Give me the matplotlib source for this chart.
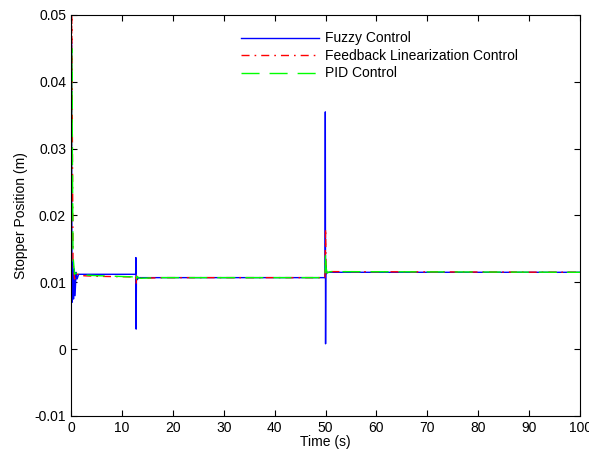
import matplotlib.pyplot as plt

plt.rcParams['font.family'] = ['Liberation Sans', 'DejaVu Sans']

# time (s) / stopper position (m)
fuzzy_t = [0, 0.1, 0.2, 0.35, 0.5, 0.65, 0.8, 1.0, 1.2, 1.5, 12.7, 12.75, 12.8,
           12.85, 12.9, 13.0, 13.3, 20, 49.9, 49.95, 50.0, 50.05, 50.1, 50.3, 100]
fuzzy_y = [0.0, 0.046, 0.007, 0.013, 0.0075, 0.012, 0.008, 0.0115, 0.0105, 0.0112,
           0.0112, 0.0137, 0.003, 0.0105, 0.0108, 0.0104, 0.0107, 0.0107, 0.0107,
           0.0355, 0.0008, 0.0125, 0.0113, 0.0115, 0.0115]

fbl_t = [0, 0.15, 0.4, 0.7, 1.0, 2, 5, 12.7, 12.8, 12.9, 13.5, 18, 49.9, 50.0,
         50.1, 50.3, 51, 100]
fbl_y = [0.0, 0.05, 0.013, 0.0105, 0.0113, 0.011, 0.0109, 0.0108, 0.0098, 0.011,
         0.0106, 0.0107, 0.0107, 0.018, 0.0125, 0.0113, 0.0116, 0.0115]

pid_t = [0, 0.15, 0.4, 0.7, 1.0, 2, 5, 12.7, 12.8, 12.9, 13.5, 18, 49.9, 50.0,
         50.1, 50.3, 51, 100]
pid_y = [0.001, 0.045, 0.014, 0.0112, 0.0114, 0.0111, 0.011, 0.0108, 0.0101,
         0.0109, 0.0106, 0.0107, 0.0107, 0.0144, 0.0122, 0.0114, 0.0116, 0.0115]

labels = ['Fuzzy Control', 'Feedback Linearization Control', 'PID Control']

fig = plt.figure(figsize=(5.89, 4.62), dpi=100)
ax = fig.add_axes([0.1205, 0.0996, 0.8645, 0.868])

ax.plot(fuzzy_t, fuzzy_y, color='#0000ff', lw=1.0, label=labels[0])
ax.plot(fbl_t, fbl_y, color='#ff0000', lw=1.0, dashes=(5.8, 3.6, 1.2, 3.6), label=labels[1])
ax.plot(pid_t, pid_y, color='#00ff00', lw=1.0, dashes=(13, 7.2), label=labels[2])

ax.set_xlim(0, 100)
ax.set_ylim(-0.01, 0.05)
ax.set_xticks(range(0, 101, 10))
ax.set_yticks([-0.01, 0, 0.01, 0.02, 0.03, 0.04, 0.05])
ax.set_yticklabels(['-0.01', '0', '0.01', '0.02', '0.03', '0.04', '0.05'])
ax.tick_params(direction='in', top=True, right=True, length=4, labelsize=10, width=0.8)
for s in ax.spines.values():
    s.set_linewidth(0.8)

ax.set_xlabel('Time (s)', fontsize=10, labelpad=0)
ax.set_ylabel('Stopper Position (m)', fontsize=10, labelpad=5)

ax.legend(loc='upper left', bbox_to_anchor=(0.31, 0.99), frameon=False, fontsize=10,
          handlelength=5.6, labelspacing=0.25, handletextpad=0.45)

fig.savefig('out.png', dpi=100)
